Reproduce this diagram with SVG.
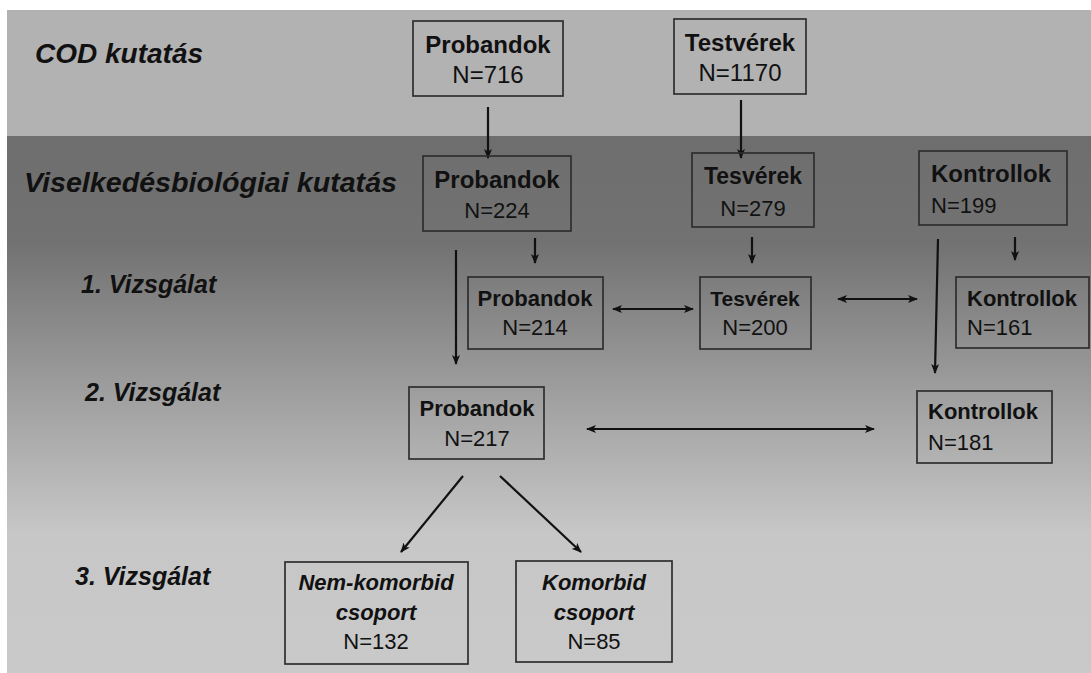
<svg xmlns="http://www.w3.org/2000/svg" width="1091" height="673" viewBox="0 0 1091 673">
<defs>
<style>
.box{fill:none;stroke:#2e2e2e;stroke-width:1.7}
.t{font-family:"Liberation Sans",Arial,sans-serif;fill:#111}
.b{font-weight:bold}
.bi{font-weight:bold;font-style:italic}
.c{text-anchor:middle}
.conn{stroke:#111;stroke-width:2.2;fill:none}
.one{marker-end:url(#ah)}
.two{marker-end:url(#ah);marker-start:url(#ah)}
</style>
<linearGradient id="g" gradientUnits="userSpaceOnUse" x1="0" y1="136" x2="0" y2="673">
<stop offset="0" stop-color="#6e6e6e"/>
<stop offset="0.2" stop-color="#727272"/>
<stop offset="0.5" stop-color="#a2a2a2"/>
<stop offset="0.74" stop-color="#c7c7c7"/>
<stop offset="1" stop-color="#c9c9c9"/>
</linearGradient>
<marker id="ah" viewBox="0 0 10 8" refX="9" refY="4" markerWidth="10" markerHeight="8" markerUnits="userSpaceOnUse" orient="auto-start-reverse">
<path d="M0,0 L10,4 L0,8 L2.5,4 z" fill="#111"/>
</marker>
</defs>
<rect x="0" y="0" width="1091" height="673" fill="#ffffff"/>
<rect x="7" y="10" width="1084" height="126" fill="#b2b2b2"/>
<rect x="7" y="136" width="1084" height="537" fill="url(#g)"/>

<g id="labels">
<text class="t bi" x="35" y="63" font-size="28">COD kutatás</text>
<text class="t bi" x="24" y="192" font-size="28" textLength="373" lengthAdjust="spacingAndGlyphs">Viselkedésbiológiai kutatás</text>
<text class="t bi" x="81" y="293" font-size="25">1. Vizsgálat</text>
<text class="t bi" x="85" y="401" font-size="25">2. Vizsgálat</text>
<text class="t bi" x="75" y="585" font-size="25">3. Vizsgálat</text>
</g>

<g id="connectors">
<line class="conn one" x1="488" y1="107" x2="488" y2="158"/>
<line class="conn one" x1="741" y1="100" x2="741" y2="158"/>
<line class="conn one" x1="535" y1="238" x2="535" y2="263"/>
<line class="conn one" x1="456" y1="250" x2="456" y2="364"/>
<line class="conn one" x1="752" y1="237" x2="752" y2="263"/>
<line class="conn one" x1="1015" y1="237" x2="1015" y2="260"/>
<line class="conn one" x1="938" y1="239" x2="935" y2="373"/>
<line class="conn two" x1="613" y1="309" x2="693" y2="309"/>
<line class="conn two" x1="838" y1="299" x2="917" y2="299"/>
<line class="conn two" x1="587" y1="429" x2="874" y2="429"/>
<line class="conn one" x1="463" y1="476" x2="401" y2="552"/>
<line class="conn one" x1="500" y1="476" x2="581" y2="552"/>
</g>

<g id="n-probandok716">
<rect class="box" x="413" y="21" width="150" height="75"/>
<text class="t b c" x="488" y="53" font-size="24">Probandok</text>
<text class="t c" x="488" y="83" font-size="24">N=716</text>
</g>
<g id="n-testverek1170">
<rect class="box" x="674" y="19" width="132" height="75"/>
<text class="t b c" x="740" y="51" font-size="24">Testvérek</text>
<text class="t c" x="740" y="81" font-size="24">N=1170</text>
</g>
<g id="n-probandok224">
<rect class="box" x="423" y="156" width="148" height="75"/>
<text class="t b c" x="497" y="188" font-size="24">Probandok</text>
<text class="t c" x="497" y="218" font-size="22">N=224</text>
</g>
<g id="n-tesverek279">
<rect class="box" x="692" y="153" width="122" height="74"/>
<text class="t b c" x="753" y="184" font-size="23">Tesvérek</text>
<text class="t c" x="753" y="216" font-size="22">N=279</text>
</g>
<g id="n-kontrollok199">
<rect class="box" x="919" y="151" width="148" height="74"/>
<text class="t b" x="931" y="182" font-size="24">Kontrollok</text>
<text class="t" x="931" y="213" font-size="22">N=199</text>
</g>
<g id="n-probandok214">
<rect class="box" x="468" y="277" width="135" height="72"/>
<text class="t b c" x="535" y="306" font-size="22">Probandok</text>
<text class="t c" x="535" y="335" font-size="22">N=214</text>
</g>
<g id="n-tesverek200">
<rect class="box" x="700" y="277" width="111" height="72"/>
<text class="t b c" x="755" y="306" font-size="21">Tesvérek</text>
<text class="t c" x="755" y="335" font-size="22">N=200</text>
</g>
<g id="n-kontrollok161">
<rect class="box" x="956" y="277" width="133" height="71"/>
<text class="t b" x="967" y="306" font-size="22">Kontrollok</text>
<text class="t" x="967" y="335" font-size="22">N=161</text>
</g>
<g id="n-probandok217">
<rect class="box" x="409" y="387" width="135" height="72"/>
<text class="t b c" x="477" y="416" font-size="22">Probandok</text>
<text class="t c" x="477" y="446" font-size="22">N=217</text>
</g>
<g id="n-kontrollok181">
<rect class="box" x="917" y="391" width="135" height="72"/>
<text class="t b" x="928" y="419" font-size="22">Kontrollok</text>
<text class="t" x="928" y="450" font-size="22">N=181</text>
</g>
<g id="n-nemkomorbid">
<rect class="box" x="285" y="562" width="183" height="102"/>
<text class="t bi c" x="376" y="590" font-size="22">Nem-komorbid</text>
<text class="t bi c" x="376" y="620" font-size="22">csoport</text>
<text class="t c" x="376" y="649" font-size="22">N=132</text>
</g>
<g id="n-komorbid">
<rect class="box" x="516" y="561" width="156" height="101"/>
<text class="t bi c" x="594" y="590" font-size="22">Komorbid</text>
<text class="t bi c" x="594" y="620" font-size="22">csoport</text>
<text class="t c" x="594" y="649" font-size="22">N=85</text>
</g>
</svg>
